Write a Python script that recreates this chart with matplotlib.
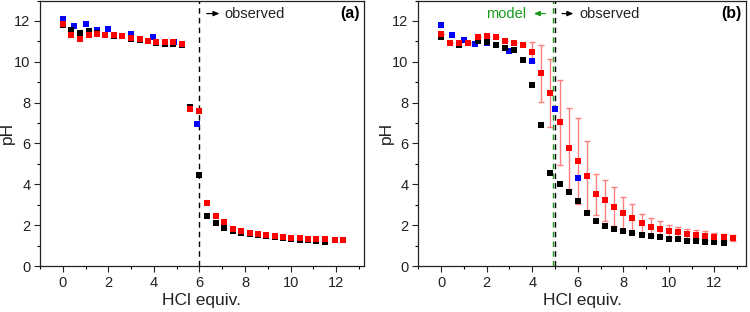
import matplotlib
matplotlib.use("Agg")
import matplotlib.pyplot as plt
from matplotlib.ticker import MultipleLocator

plt.rcParams['font.family'] = ['Liberation Sans', 'DejaVu Sans']

# ---------------- Panel (a) data ----------------
a_red_x = [0, 0.37, 0.76, 1.13, 1.51, 1.87, 2.25, 2.62, 3.0, 3.37, 3.73, 4.1, 4.47, 4.83, 5.23,
           5.59, 6.0, 6.34, 6.72, 7.09, 7.47, 7.82, 8.2, 8.56, 8.93, 9.3, 9.66, 10.03, 10.4,
           10.75, 11.13, 11.49, 11.93, 12.3]
a_red_y = [11.84, 11.32, 11.1, 11.33, 11.38, 11.32, 11.3, 11.27, 11.17, 11.12, 11.04, 10.97, 10.96,
           10.96, 10.89, 7.71, 7.58, 3.1, 2.45, 2.14, 1.81, 1.73, 1.61, 1.55, 1.5, 1.45, 1.42,
           1.39, 1.37, 1.34, 1.30, 1.30, 1.29, 1.27]
a_black_x = [0, 0.37, 0.76, 1.13, 1.51, 1.87, 2.25, 2.62, 3.0, 3.37, 3.73, 4.1, 4.47, 4.83, 5.23,
             5.59, 6.0, 6.34, 6.72, 7.09, 7.47, 7.82, 8.2, 8.56, 8.93, 9.3, 9.66, 10.03, 10.4,
             10.75, 11.13, 11.49]
a_black_y = [11.79, 11.54, 11.43, 11.5, 11.4, 11.3, 11.28, 11.24, 11.13, 11.08, 11.0, 10.93, 10.88,
             10.86, 10.81, 7.79, 4.45, 2.45, 2.09, 1.84, 1.71, 1.63, 1.56, 1.5, 1.45, 1.4, 1.36,
             1.32, 1.29, 1.26, 1.22, 1.17]
a_blue_x = [0, 0.5, 1.0, 1.5, 2.0, 3.0, 3.97, 4.86, 5.9]
a_blue_y = [12.07, 11.76, 11.87, 11.58, 11.6, 11.37, 11.2, 10.97, 6.95]

# ---------------- Panel (b) data ----------------
b_red_x = [0, 0.4, 0.8, 1.2, 1.6, 2.0, 2.4, 2.8, 3.2, 3.6, 4.0, 4.4, 4.8, 5.2, 5.6, 6.0, 6.4,
           6.8, 7.2, 7.6, 8.0, 8.4, 8.8, 9.2, 9.6, 10.0, 10.4, 10.8, 11.2, 11.6, 12.0, 12.4, 12.8]
b_red_y = [11.35, 10.94, 10.91, 10.93, 11.19, 11.27, 11.19, 11.02, 10.94, 10.84, 10.48, 9.43,
           8.48, 7.03, 5.76, 5.14, 4.40, 3.52, 3.21, 2.9, 2.58, 2.33, 2.09, 1.93, 1.83, 1.73,
           1.65, 1.58, 1.53, 1.47, 1.42, 1.40, 1.35]
b_red_err = [0, 0, 0, 0, 0, 0, 0, 0, 0, 0, 0.5, 1.41, 1.65, 2.07, 2.0, 2.1, 1.72, 1.0, 1.0,
             0.95, 0.8, 0.69, 0.45, 0.42, 0.35, 0.3, 0.28, 0.25, 0.22, 0.22, 0.2, 0.18, 0.15]
b_black_x = [0, 0.4, 0.8, 1.2, 1.6, 2.0, 2.4, 2.8, 3.2, 3.6, 4.0, 4.4, 4.8, 5.2, 5.6, 6.0, 6.4,
             6.8, 7.2, 7.6, 8.0, 8.4, 8.8, 9.2, 9.6, 10.0, 10.4, 10.8, 11.2, 11.6, 12.0, 12.4]
b_black_y = [11.22, 10.9, 10.84, 10.9, 11.02, 10.97, 10.84, 10.68, 10.57, 10.1, 8.86, 6.9, 4.53,
             4.01, 3.64, 3.18, 2.58, 2.22, 1.96, 1.79, 1.71, 1.6, 1.52, 1.45, 1.4, 1.34, 1.30,
             1.24, 1.21, 1.18, 1.16, 1.13]
b_blue_x = [0, 0.5, 1.0, 1.5, 2.0, 3.0, 4.0, 5.0, 6.0]
b_blue_y = [11.82, 11.33, 11.06, 10.88, 10.9, 10.53, 10.04, 7.68, 4.32]

x_ticks = [0, 2, 4, 6, 8, 10, 12]
y_ticks = [0, 2, 4, 6, 8, 10, 12]

RED = '#ff0000'
BLUE = '#0000ff'
BLACK = '#000000'
ERR = '#ff7f7f'
MS = 5

fig = plt.figure(figsize=(7.5, 3.12), dpi=100)
axa = fig.add_axes([40 / 750, 46 / 312, 323.5 / 750, 265.5 / 312])
axb = fig.add_axes([418.3 / 750, 46 / 312, 328 / 750, 265.5 / 312])


def style(ax, xmax, ylab_x):
    ax.set_xlim(-1, xmax)
    ax.set_ylim(0, 13)
    ax.set_xticks(x_ticks)
    ax.set_yticks(y_ticks)
    ax.xaxis.set_minor_locator(MultipleLocator(1))
    ax.yaxis.set_minor_locator(MultipleLocator(1))
    ax.tick_params(which='major', direction='out', length=4, width=0.8, labelsize=10.5,
                   colors='#222222', pad=3)
    ax.tick_params(which='minor', direction='out', length=2.5, width=0.8)
    ax.tick_params(top=False, right=False)
    for s in ax.spines.values():
        s.set_linewidth(0.9)
        s.set_color('#222222')
    ax.set_xlabel('HCl equiv.', fontsize=12.5, color='#222222')
    ax.set_ylabel('pH', fontsize=12.5, color='#222222')
    ax.xaxis.set_label_coords(0.5, -0.1)
    ax.yaxis.set_label_coords(ylab_x, 0.5)


def sq(ax, x, y, c, z):
    ax.plot(x, y, 's', color=c, markersize=MS, markeredgewidth=0, linestyle='none', zorder=z)


# Panel (a)
style(axa, 13.2, -0.076)
axa.axvline(6, color='black', linestyle=(0, (4, 3)), linewidth=1.0, zorder=1)
sq(axa, a_blue_x, a_blue_y, BLUE, 3)
sq(axa, a_black_x, a_black_y, BLACK, 4)
sq(axa, a_red_x, a_red_y, RED, 5)
axa.annotate('', xy=(7.0, 12.36), xytext=(6.2, 12.36),
             arrowprops=dict(arrowstyle='-|>,head_length=0.35,head_width=0.15', color='black', lw=0.9))
axa.text(7.08, 12.36, 'observed', fontsize=10.5, va='center', ha='left', color='#222222')
axa.text(13.05, 12.36, '(a)', fontsize=11.5, fontweight='bold', va='center', ha='right')

# Panel (b)
style(axb, 13.4, -0.074)
axb.axvline(4.9, color='#1a9a1a', linestyle=(0, (4, 3)), linewidth=1.0, zorder=1)
axb.axvline(5.0, color='black', linestyle=(0, (4, 3)), linewidth=1.0, zorder=1)
axb.errorbar(b_red_x, b_red_y, yerr=b_red_err, fmt='none', ecolor=ERR, elinewidth=1.0,
             capsize=2.5, capthick=1.0, zorder=2)
sq(axb, b_blue_x, b_blue_y, BLUE, 3)
sq(axb, b_black_x, b_black_y, BLACK, 4)
sq(axb, b_red_x, b_red_y, RED, 5)
axb.annotate('', xy=(3.95, 12.36), xytext=(4.7, 12.36),
             arrowprops=dict(arrowstyle='-|>,head_length=0.35,head_width=0.15', color='#1a9a1a', lw=0.9))
axb.text(3.75, 12.36, 'model', fontsize=10.5, va='center', ha='right', color='#1a9a1a')
axb.annotate('', xy=(5.93, 12.36), xytext=(5.19, 12.36),
             arrowprops=dict(arrowstyle='-|>,head_length=0.35,head_width=0.15', color='black', lw=0.9))
axb.text(6.05, 12.36, 'observed', fontsize=10.5, va='center', ha='left', color='#222222')
axb.text(13.2, 12.36, '(b)', fontsize=11.5, fontweight='bold', va='center', ha='right')

fig.savefig('out.png', dpi=100)
